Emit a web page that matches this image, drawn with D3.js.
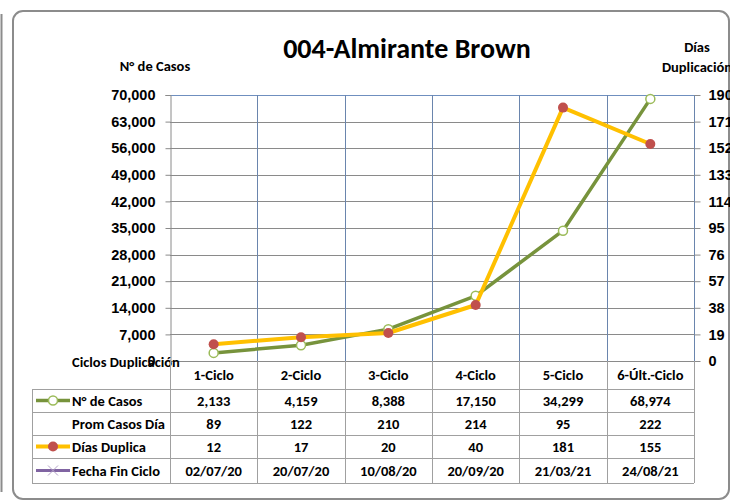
<!DOCTYPE html>
<html>
<head>
<meta charset="utf-8">
<script src="https://cdn.jsdelivr.net/npm/d3@7"></script>
<style>
  body { margin: 0; background: #fff; }
  svg { display: block; font-family: Carlito, Lato, "Open Sans", sans-serif; }
  .lbl { font-weight: bold; font-size: 14.5px; fill: #000; }
</style>
</head>
<body>
<div class="chart"></div>
<script>
// datos del grafico
var categorias = ["1-Ciclo", "2-Ciclo", "3-Ciclo", "4-Ciclo", "5-Ciclo", "6-Últ.-Ciclo"];
var casos = [2133, 4159, 8388, 17150, 34299, 68974];
var promCasosDia = [89, 122, 210, 214, 95, 222];
var diasDuplica = [12, 17, 20, 40, 181, 155];
var fechaFinCiclo = ["02/07/20", "20/07/20", "10/08/20", "20/09/20", "21/03/21", "24/08/21"];
var ticksCasos = [0, 7000, 14000, 21000, 28000, 35000, 42000, 49000, 56000, 63000, 70000];
var ticksDias = [0, 19, 38, 57, 76, 95, 114, 133, 152, 171, 190];

var width = 730;
var height = 500;

var svg = d3.select(".chart")
    .append("svg")
    .attr("width", width)
    .attr("height", height);

// marco
svg.append("line")
    .attr("x1", 1.5).attr("x2", 1.5)
    .attr("y1", 14).attr("y2", 492)
    .attr("stroke", "#8c8c8c").attr("stroke-width", 2);
svg.append("rect")
    .attr("x", 13).attr("y", 11)
    .attr("width", 716).attr("height", 488)
    .attr("rx", 10)
    .attr("fill", "none")
    .attr("stroke", "#8c8c8c").attr("stroke-width", 2);

var pLeft = 170, pRight = 694, pTop = 95, pBottom = 361;

var x = d3.scaleBand()
    .domain(categorias)
    .range([pLeft, pRight]);

var yL = d3.scaleLinear().domain([0, 70000]).range([pBottom, pTop]);
var yR = d3.scaleLinear().domain([0, 190]).range([pBottom, pTop]);

// grilla horizontal
svg.append("g")
    .selectAll("line")
    .data(ticksCasos.slice(1))
    .enter()
    .append("line")
    .attr("x1", pLeft).attr("x2", pRight)
    .attr("y1", d => Math.round(yL(d)) + 0.5).attr("y2", d => Math.round(yL(d)) + 0.5)
    .attr("stroke", d => d == 70000 ? "#6f8fbf" : "#8a8a8a")
    .attr("stroke-width", 1);

// grilla vertical
svg.append("g")
    .selectAll("line")
    .data(categorias)
    .enter()
    .append("line")
    .attr("x1", d => Math.round(x(d) + x.bandwidth()) + 0.5)
    .attr("x2", d => Math.round(x(d) + x.bandwidth()) + 0.5)
    .attr("y1", pTop).attr("y2", pBottom)
    .attr("stroke", "#6a85ad")
    .attr("stroke-width", 1);

// eje izquierdo
var ejeL = svg.append("g")
    .attr("transform", "translate(" + (pLeft + 0.5) + ",0)")
    .call(d3.axisLeft(yL).tickValues(ticksCasos).tickFormat(d3.format(",")).tickSize(5).tickPadding(10));
ejeL.select(".domain").attr("stroke", "#8a8a8a");
ejeL.selectAll(".tick line").attr("stroke", "#8a8a8a");
ejeL.selectAll("text").attr("class", "lbl").attr("font-family", null);

// eje derecho
var ejeR = svg.append("g")
    .attr("transform", "translate(" + (pRight + 0.5) + ",0)")
    .call(d3.axisRight(yR).tickValues(ticksDias).tickSize(6).tickPadding(8));
ejeR.select(".domain").remove();
ejeR.selectAll(".tick line").attr("stroke", "#8a8a8a");
ejeR.selectAll("text").attr("class", "lbl").attr("font-family", null);

// eje inferior (linea 0)
svg.append("line")
    .attr("x1", pLeft).attr("x2", pRight)
    .attr("y1", pBottom + 0.5).attr("y2", pBottom + 0.5)
    .attr("stroke", "#8a8a8a");

// titulos
svg.append("text")
    .attr("x", 407).attr("y", 58)
    .attr("text-anchor", "middle")
    .style("font-weight", "bold").style("font-size", "28px")
    .text("004-Almirante Brown");
svg.append("text").attr("class", "lbl")
    .attr("x", 155).attr("y", 71).attr("text-anchor", "middle")
    .text("N° de Casos");
svg.append("text").attr("class", "lbl")
    .attr("x", 697).attr("y", 52).attr("text-anchor", "middle")
    .text("Días");
svg.append("text").attr("class", "lbl")
    .attr("x", 697).attr("y", 72).attr("text-anchor", "middle")
    .text("Duplicación");
svg.append("text").attr("class", "lbl")
    .attr("x", 72).attr("y", 367)
    .text("Ciclos Duplicación");

// tabla de datos
var filas = [389, 412, 435, 458, 483];
var tabla = svg.append("g");
tabla.selectAll(".hl")
    .data(filas)
    .enter()
    .append("line")
    .attr("x1", 32).attr("x2", pRight)
    .attr("y1", d => d + 0.5).attr("y2", d => d + 0.5)
    .attr("stroke", "#a0a0a0");
tabla.append("line")
    .attr("x1", 32.5).attr("x2", 32.5)
    .attr("y1", 389).attr("y2", 483)
    .attr("stroke", "#a0a0a0");
tabla.selectAll(".vl")
    .data([pLeft].concat(categorias.map(d => x(d) + x.bandwidth())))
    .enter()
    .append("line")
    .attr("x1", d => Math.round(d) + 0.5).attr("x2", d => Math.round(d) + 0.5)
    .attr("y1", pBottom).attr("y2", 483)
    .attr("stroke", "#a0a0a0");

tabla.selectAll(".cat")
    .data(categorias)
    .enter()
    .append("text").attr("class", "lbl")
    .attr("x", d => x(d) + x.bandwidth() / 2)
    .attr("y", 380)
    .attr("text-anchor", "middle")
    .text(d => d);

var filasDatos = [
    {nombre: "N° de Casos", valores: casos.map(d3.format(","))},
    {nombre: "Prom Casos Día", valores: promCasosDia},
    {nombre: "Días Duplica", valores: diasDuplica},
    {nombre: "Fecha Fin Ciclo", valores: fechaFinCiclo}
];
filasDatos.forEach(function (f, i) {
    var yc = (filas[i] + filas[i + 1]) / 2;
    tabla.append("text").attr("class", "lbl")
        .attr("x", 72).attr("y", yc + 5)
        .text(f.nombre);
    tabla.selectAll(".v" + i)
        .data(f.valores)
        .enter()
        .append("text").attr("class", "lbl")
        .attr("x", (d, j) => x(categorias[j]) + x.bandwidth() / 2)
        .attr("y", yc + 5)
        .attr("text-anchor", "middle")
        .text(d => d);
});

// claves de leyenda en la tabla
var yk = filas.map((d, i) => (d + filas[i + 1]) / 2);
tabla.append("line").attr("x1", 36).attr("x2", 70).attr("y1", yk[0]).attr("y2", yk[0])
    .attr("stroke", "#77933c").attr("stroke-width", 3.5);
tabla.append("circle").attr("cx", 53).attr("cy", yk[0]).attr("r", 4.5)
    .attr("fill", "#fff").attr("stroke", "#9bbb59").attr("stroke-width", 1.5);
tabla.append("line").attr("x1", 36).attr("x2", 70).attr("y1", yk[2]).attr("y2", yk[2])
    .attr("stroke", "#ffc000").attr("stroke-width", 4);
tabla.append("circle").attr("cx", 53).attr("cy", yk[2]).attr("r", 5)
    .attr("fill", "#c0504d");
tabla.append("line").attr("x1", 36).attr("x2", 70).attr("y1", yk[3]).attr("y2", yk[3])
    .attr("stroke", "#8064a2").attr("stroke-width", 3);
tabla.append("path")
    .attr("d", "M48," + (yk[3] - 5) + "L58," + (yk[3] + 5) + "M48," + (yk[3] + 5) + "L58," + (yk[3] - 5))
    .attr("stroke", "#b3a2c7").attr("stroke-width", 1);

// series
var cx = function (d, i) { return x(categorias[i]) + x.bandwidth() / 2; };

svg.append("path")
    .datum(casos)
    .attr("fill", "none")
    .attr("stroke", "#77933c")
    .attr("stroke-width", 3.5)
    .attr("stroke-linejoin", "round")
    .attr("d", d3.line().x(cx).y(d => yL(d)));
svg.append("g")
    .selectAll("circle")
    .data(casos)
    .enter()
    .append("circle")
    .attr("cx", cx)
    .attr("cy", d => yL(d))
    .attr("r", 4.5)
    .attr("fill", "#fff")
    .attr("stroke", "#9bbb59")
    .attr("stroke-width", 1.5);

svg.append("path")
    .datum(diasDuplica)
    .attr("fill", "none")
    .attr("stroke", "#ffc000")
    .attr("stroke-width", 4)
    .attr("stroke-linejoin", "round")
    .attr("d", d3.line().x(cx).y(d => yR(d)));
svg.append("g")
    .selectAll("circle")
    .data(diasDuplica)
    .enter()
    .append("circle")
    .attr("cx", cx)
    .attr("cy", d => yR(d))
    .attr("r", 5)
    .attr("fill", "#c0504d");
</script>
</body>
</html>
